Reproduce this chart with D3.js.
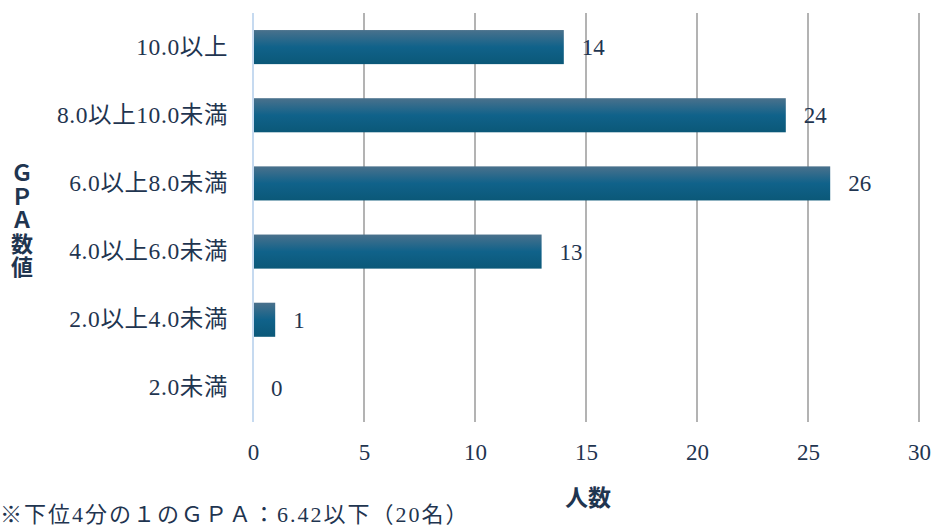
<!DOCTYPE html>
<html>
<head>
<meta charset="utf-8">
<script src="https://cdn.jsdelivr.net/npm/d3@7"></script>
<style>
    body { margin: 0; background: #fff; }
    text { font-family: "Liberation Serif", "Noto Sans CJK JP", serif; fill: #1f3550; }
</style>
</head>
<body>
<div id="grafico"></div>
<script>
var categorias = ["10.0以上", "8.0以上10.0未満", "6.0以上8.0未満", "4.0以上6.0未満", "2.0以上4.0未満", "2.0未満"];
var valores = [14, 24, 26, 13, 1, 0];
var ticks = [0, 5, 10, 15, 20, 25, 30];
var tituloY = ["Ｇ", "Ｐ", "Ａ", "数", "値"];
var tituloX = "人数";
var nota = "※下位4分の１のＧＰＡ：6.42以下（20名）";

var data = categorias.map(function (c, i) {
    return {clave: c, valor: valores[i]};
});

var svg = d3.select("#grafico").append("svg")
        .attr("width", 935)
        .attr("height", 527);

var margin = {top: 13, right: 16, bottom: 105, left: 253};
var width = 935 - margin.left - margin.right;
var height = 422 - margin.top;
var g = svg.append("g").attr("transform", "translate(" + margin.left + "," + margin.top + ")");

var x = d3.scaleLinear().domain([0, 30]).range([0, 666]);
var y = d3.scaleBand().domain(categorias).range([0, height])
        .paddingInner(0.5).paddingOuter(0.25);

// degradado de las barras
var grad = svg.append("defs").append("linearGradient")
        .attr("id", "grad")
        .attr("x1", 0).attr("y1", 0).attr("x2", 0).attr("y2", 1);
grad.append("stop").attr("offset", "0%").attr("stop-color", "#4a718c");
grad.append("stop").attr("offset", "50%").attr("stop-color", "#10628a");
grad.append("stop").attr("offset", "100%").attr("stop-color", "#0b5878");

// lineas de la rejilla
g.append("g")
        .selectAll("line")
        .data(ticks.filter(function (d) { return d > 0; }))
        .enter()
        .append("line")
        .attr("x1", function (d) { return x(d); })
        .attr("x2", function (d) { return x(d); })
        .attr("y1", 0)
        .attr("y2", height)
        .attr("stroke", "#b3b3b3")
        .attr("stroke-width", 2);

g.append("g")
        .selectAll("rect")
        .data(data)
        .enter()
        .append("rect")
        .attr("x", x(0))
        .attr("y", function (d) { return y(d.clave); })
        .attr("width", function (d) { return x(d.valor) - x(0); })
        .attr("height", y.bandwidth())
        .attr("fill", "url(#grad)");

// eje en cero
g.append("line")
        .attr("x1", x(0)).attr("x2", x(0))
        .attr("y1", 0).attr("y2", height)
        .attr("stroke", "#c6daf0")
        .attr("stroke-width", 2);

// etiquetas de valores
g.append("g")
        .selectAll("text")
        .data(data)
        .enter()
        .append("text")
        .attr("x", function (d) { return x(d.valor) + 18; })
        .attr("y", function (d) { return y(d.clave) + y.bandwidth() / 2; })
        .attr("dy", "0.35em")
        .attr("font-size", 23)
        .text(function (d) { return d.valor; });

// eje x
var ejeX = g.append("g")
        .attr("transform", "translate(0," + height + ")")
        .call(d3.axisBottom(x).tickValues(ticks).tickSize(0).tickPadding(22));
ejeX.select(".domain").remove();
ejeX.selectAll("text")
        .attr("font-size", 23)
        .attr("font-family", "Liberation Serif, serif")
        .attr("fill", "#1f3550");

// eje y
var ejeY = g.append("g")
        .call(d3.axisLeft(y).tickSize(0).tickPadding(25));
ejeY.select(".domain").remove();
ejeY.selectAll("text")
        .attr("font-size", 23.5)
        .attr("letter-spacing", 0.6)
        .attr("font-family", "Liberation Serif, Noto Sans CJK JP, serif")
        .attr("fill", "#1f3550");

// titulos
svg.append("g")
        .selectAll("text")
        .data(tituloY)
        .enter()
        .append("text")
        .attr("x", 22)
        .attr("y", function (d, i) { return 181 + i * 23.5; })
        .attr("text-anchor", "middle")
        .attr("font-size", 22)
        .attr("font-weight", "bold")
        .text(function (d) { return d; });

svg.append("text")
        .attr("x", 588)
        .attr("y", 506)
        .attr("text-anchor", "middle")
        .attr("font-size", 23)
        .attr("font-weight", "bold")
        .attr("font-family", "Noto Sans CJK JP")
        .text(tituloX);

svg.append("text")
        .attr("x", 0)
        .attr("y", 522)
        .attr("font-size", 22)
        .attr("letter-spacing", 2)
        .text(nota);
</script>
</body>
</html>
